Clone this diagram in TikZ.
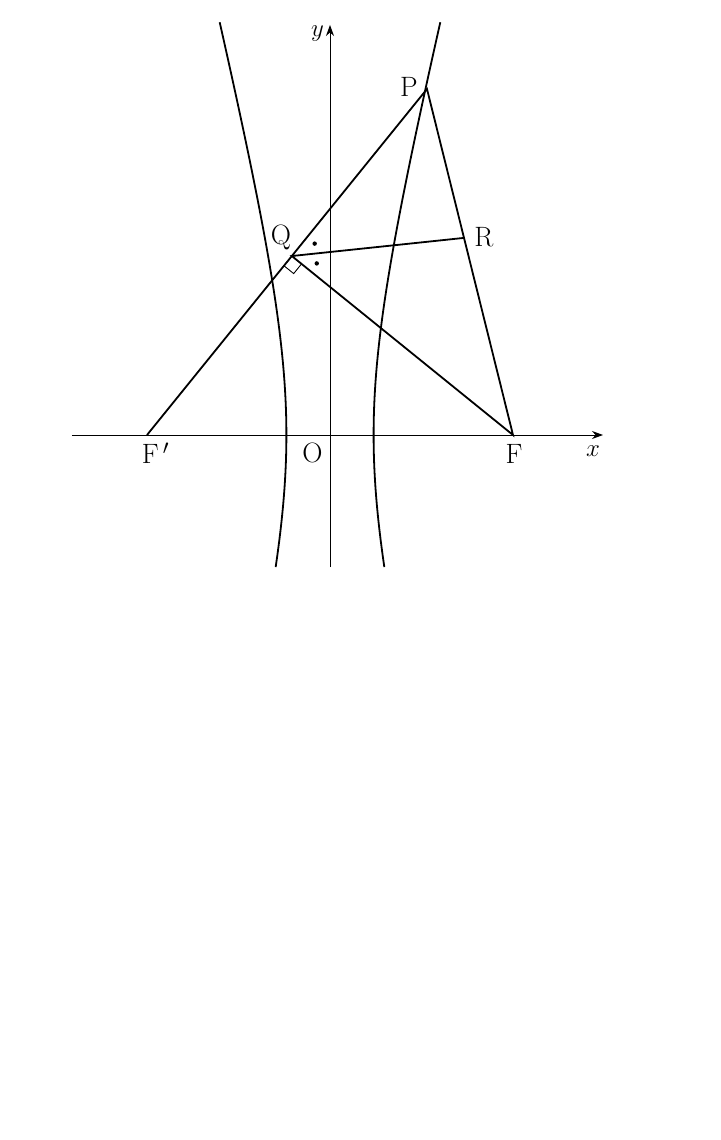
\documentclass[tikz,border=0pt]{standalone}
\usepackage{fontspec}
\usetikzlibrary{arrows.meta,calc}
\begin{document}
\begin{tikzpicture}[x=1pt,y=1pt,
  curve/.style={line width=1.8pt},
  seg/.style={line width=1.8pt},
  axis/.style={line width=0.8pt,-{Stealth[length=11pt,width=8pt]}},
  lbl/.style={font=\fontsize{28}{32}\selectfont,inner sep=0pt},
  pt/.style={circle,fill,inner sep=0pt,minimum size=4.4pt}]
\useasboundingbox (-330,-705) rectangle (390,435);
% axes
\coordinate (xs) at (-258,0);
\coordinate (xe) at (273,0);
\coordinate (ys) at (0,-132);
\coordinate (ye) at (0,410);
\draw[axis] (xs) -- (xe);
\draw[axis] (ys) -- (ye);
% hyperbola
\draw[curve] plot[domain=-0.688:1.58,samples=120,variable=\t] ({43.6*cosh(\t)},{177.6*sinh(\t)});
\draw[curve] plot[domain=-0.688:1.58,samples=120,variable=\t] ({-43.6*cosh(\t)},{177.6*sinh(\t)});
% points
\coordinate (F) at (183,0);
\coordinate (Fp) at (-183,0);
\coordinate (P) at (97,346);
\coordinate (Q) at ($(Fp)!(F)!(P)$);
\coordinate (R) at (134,197.1);
\draw[seg] (Fp) -- (P) -- (F) -- (Q) -- (R);
% right angle mark
\draw[line width=0.9pt] ($(Q)!12.5pt!(Fp)$) -- ($($(Q)!12.5pt!(Fp)$)+($(Q)!12.5pt!(F)$)-(Q)$) -- ($(Q)!12.5pt!(F)$);
% angle dots
\node[pt] (d1) at ($(Q)+(28.5:26)$) {};
\node[pt] (d2) at ($(Q)+(-16.5:26)$) {};
% labels
\node[lbl] (ly) at (-12.5,401) {$y$};
\node[lbl] (lx) at (263,-16) {$x$};
\node[lbl] (lP) at (79,348) {P};
\node[lbl] (lQ) at (-49,198) {Q};
\node[lbl] (lR) at (154,197.5) {R};
\node[lbl] (lFp) at (-174.5,-18.5) {F$\,'$};
\node[lbl] (lO) at (-17.5,-18) {O};
\node[lbl] (lF) at (184,-18.5) {F};
\end{tikzpicture}
\end{document}
